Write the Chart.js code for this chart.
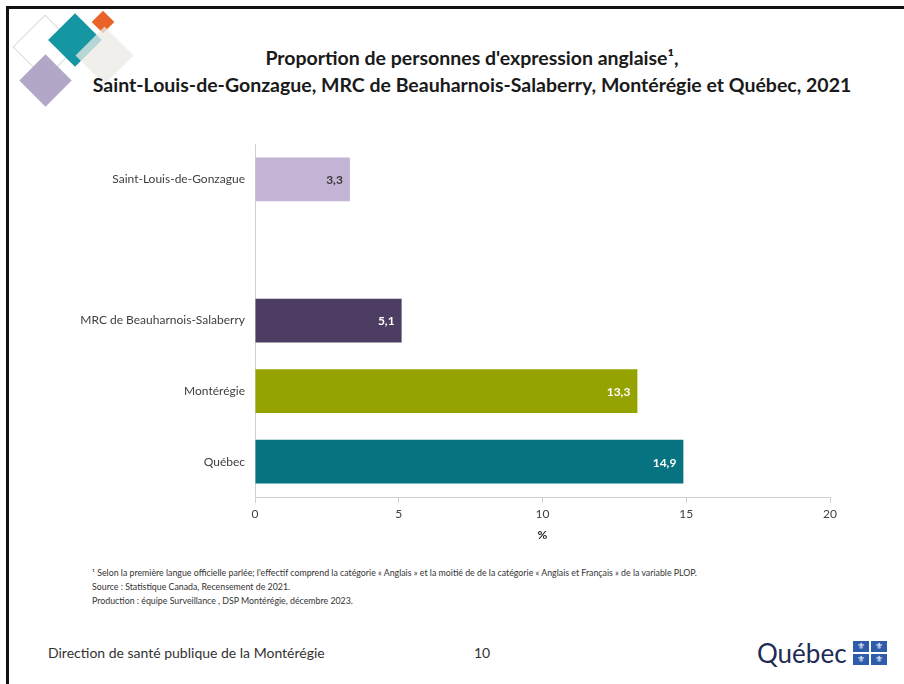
<!DOCTYPE html>
<html lang="fr">
<head>
<meta charset="utf-8">
<script src="https://cdn.jsdelivr.net/npm/chart.js@4.4.0/dist/chart.umd.min.js"></script>
<style>
  html, body { margin: 0; padding: 0; background: #fff; }
  body { width: 904px; height: 684px; position: relative; overflow: hidden; font-family: Lato, "Open Sans", sans-serif; color: #262626; }
  .frame { position: absolute; left: 6px; top: 6px; right: -10px; bottom: -10px; border-left: 3px solid #111; border-top: 3px solid #111; }
  .dia { position: absolute; transform: rotate(45deg); }
  .title { position: absolute; left: 40px; width: 864px; text-align: center; font-weight: bold; font-size: 19.5px; color: #1a1a1a; white-space: nowrap; }
  .note { position: absolute; left: 92px; font-size: 8.8px; color: #333; white-space: nowrap; }
  .foot { position: absolute; top: 644px; font-size: 14px; color: #333; white-space: nowrap; }
  #box { position: absolute; left: 20px; top: 127px; width: 830px; height: 415px; }
  .qc { position: absolute; left: 757px; top: 638px; font-family: Lato, sans-serif; font-size: 26px; line-height: 30px; color: #1f2b55; }
  .fl { position: absolute; width: 16px; height: 11px; background: #2d5caa; color: #fff; font-family: "DejaVu Sans"; font-size: 9px; line-height: 11px; text-align: center; }
</style>
</head>
<body>
<div class="frame"></div>

<!-- decorative diamonds -->
<div class="dia" style="left:22px;top:24px;width:44px;height:44px;border:1.5px solid #d6ddd2;"></div>
<div class="dia" style="left:27px;top:62px;width:37px;height:37px;background:#b3a7c8;"></div>
<div class="dia" style="left:56px;top:21px;width:38px;height:38px;background:#1496a3;"></div>
<div class="dia" style="left:95px;top:14px;width:16px;height:16px;background:#e8622a;"></div>
<div class="dia" style="left:84px;top:35px;width:41px;height:41px;background:rgba(236,234,230,0.75);"></div>

<div class="title" style="top:46px;">Proportion de personnes d'expression anglaise¹,</div>
<div class="title" style="top:73px;">Saint-Louis-de-Gonzague, MRC de Beauharnois-Salaberry, Montérégie et Québec, 2021</div>

<div id="box"><canvas id="chart"></canvas></div>

<div class="note" style="top:567px;">¹ Selon la première langue officielle parlée; l'effectif comprend la catégorie « Anglais » et la moitié de de la catégorie « Anglais et Français » de la variable PLOP.</div>
<div class="note" style="top:581px;">Source : Statistique Canada, Recensement de 2021.</div>
<div class="note" style="top:595px;">Production : équipe Surveillance , DSP Montérégie, décembre 2023.</div>

<div class="foot" style="left:48px;">Direction de santé publique de la Montérégie</div>
<div class="foot" style="left:474px;">10</div>

<div class="qc">Québec</div>
<div class="fl" style="left:853px;top:641px;">⚜</div>
<div class="fl" style="left:871px;top:641px;">⚜</div>
<div class="fl" style="left:853px;top:654px;">⚜</div>
<div class="fl" style="left:871px;top:654px;">⚜</div>

<script>
// Chart data
const categories = ["Saint-Louis-de-Gonzague", "", "MRC de Beauharnois-Salaberry", "Montérégie", "Québec"];
const values = [3.3, null, 5.1, 13.3, 14.9];
const barColors = ["#c3b3d4", "#ffffff", "#4e3d62", "#95a300", "#077380"];
const labelColors = ["#3a3a3a", "#ffffff", "#ffffff", "#ffffff", "#ffffff"];
const xTicks = [0, 5, 10, 15, 20];

function fmt(v) {
  return v.toFixed(1).replace('.', ',');
}

// draws the value at the inner end of each bar
const valueLabels = {
  id: 'valueLabels',
  afterDatasetsDraw(chart) {
    const ctx = chart.ctx;
    const meta = chart.getDatasetMeta(0);
    ctx.save();
    ctx.font = 'bold 12px Lato';
    ctx.textAlign = 'right';
    ctx.textBaseline = 'middle';
    meta.data.forEach((bar, i) => {
      if (values[i] == null) return;
      ctx.fillStyle = labelColors[i];
      ctx.fillText(fmt(values[i]), bar.x - 7, bar.y + 1);
    });
    ctx.restore();
  }
};

new Chart(document.getElementById('chart'), {
  type: 'bar',
  data: {
    labels: categories,
    datasets: [{
      data: values,
      backgroundColor: barColors,
      borderWidth: 0,
      barPercentage: 0.62,
      categoryPercentage: 1,
    }]
  },
  options: {
    indexAxis: 'y',
    responsive: true,
    maintainAspectRatio: false,
    animation: false,
    layout: { padding: { top: 13, right: 20, left: 0, bottom: 0 } },
    plugins: {
      legend: { display: false },
      tooltip: { enabled: false },
    },
    scales: {
      x: {
        min: 0,
        max: 20,
        afterBuildTicks: (scale) => { scale.ticks = xTicks.map(v => ({ value: v })); },
        afterFit: (scale) => { scale.height = 45; },
        grid: { drawOnChartArea: false, drawTicks: true, tickLength: 6, color: '#d0d0d0' },
        border: { display: true, color: '#d0d0d0', width: 1 },
        ticks: { color: '#404040', font: { family: 'Lato', size: 12 }, padding: 4 },
        title: { display: true, text: '%', color: '#262626', font: { family: 'Lato', size: 12, weight: 'bold' }, padding: { top: 0, bottom: 0 } },
      },
      y: {
        afterFit: (scale) => { scale.width = 235; },
        grid: { display: false, drawTicks: false },
        border: { display: true, color: '#d0d0d0', width: 1 },
        ticks: { color: '#404040', font: { family: 'Lato', size: 12 }, padding: 10 },
      }
    }
  },
  plugins: [valueLabels]
});
</script>
</body>
</html>
